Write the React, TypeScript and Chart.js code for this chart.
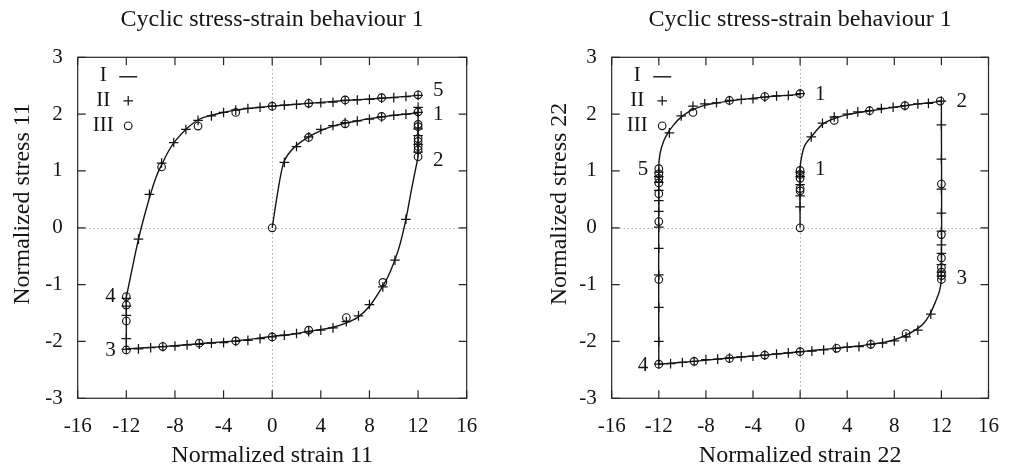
import React, { useEffect, useRef } from 'react';
import { Chart, registerables } from 'chart.js';

Chart.register(...registerables);

type Pt = [number, number];

const FONT = "'Liberation Serif', 'Times New Roman', serif";
const INK = '#141414';

// ---------- Panel 1: stress 11 vs strain 11 ----------
const s11LineLoad: Pt[] = [
  [0, 0], [0.42, 0.58], [0.9, 1.12], [1.3, 1.29], [2, 1.45], [3, 1.6], [4, 1.71], [5, 1.79],
  [6, 1.84], [7, 1.88], [8, 1.92], [9, 1.95], [10, 1.98], [11, 2.0], [12, 2.02],
];
const s11LineRelax1: Pt[] = [[12, 2.02], [12, 1.25]];
const s11LineUnload: Pt[] = [
  [12, 1.25], [11.5, 0.72], [11, 0.15], [10.5, -0.3], [10, -0.62], [9.5, -0.87], [9, -1.06],
  [8, -1.38], [7, -1.58], [6, -1.68], [5, -1.75], [4, -1.79], [3, -1.82], [2, -1.86], [1, -1.89],
  [0, -1.91], [-1, -1.94], [-3, -1.99], [-6, -2.04], [-9, -2.09], [-12, -2.13],
];
const s11LineRelax2: Pt[] = [[-12, -2.13], [-12, -1.22]];
const s11LineReload: Pt[] = [
  [-12, -1.22], [-11.5, -0.7], [-11, -0.2], [-10.5, 0.22], [-10, 0.6], [-9.5, 0.92], [-9, 1.15],
  [-8.5, 1.36], [-8, 1.52], [-7, 1.75], [-6, 1.91], [-5, 1.98], [-4, 2.03], [-3, 2.07], [-2, 2.1],
  [-1, 2.12], [0, 2.14], [3, 2.19], [6, 2.24], [9, 2.28], [12, 2.33],
];
const s11SeriesII: Pt[] = [
  [1, 1.15], [2, 1.43], [3, 1.6], [4, 1.73], [5, 1.8], [6, 1.85], [7, 1.88], [8, 1.91], [9, 1.95],
  [10, 1.98], [11, 2.0], [12, 2.03],
  [12, 2.12], [12, 1.74], [12, 1.62], [12, 1.47], [12, 1.33],
  [11, 0.15], [10.1, -0.57], [9.1, -1.04], [8, -1.35], [7.1, -1.55], [6.1, -1.65], [5, -1.76],
  [4, -1.8], [3, -1.83], [2, -1.86], [1, -1.89], [0, -1.92], [-1, -1.95], [-2, -1.98], [-3, -2.0],
  [-4, -2.02], [-5, -2.03], [-6, -2.05], [-7, -2.06], [-8, -2.08], [-9, -2.09], [-10, -2.11],
  [-11, -2.13], [-12, -2.14],
  [-12, -1.95], [-12, -1.54], [-12, -1.38], [-12, -1.24],
  [-11, -0.2], [-10.1, 0.59], [-9.1, 1.14], [-8.1, 1.5], [-7.1, 1.73], [-6.1, 1.89], [-5, 1.97],
  [-4, 2.03], [-3, 2.07], [-2, 2.1], [-1, 2.12], [0, 2.14], [1, 2.16], [2, 2.17], [3, 2.19],
  [4, 2.2], [5, 2.21], [6, 2.24], [7, 2.25], [8, 2.26], [9, 2.28], [10, 2.29], [11, 2.31], [12, 2.33],
];
const s11SeriesIII: Pt[] = [
  [0, 0], [3, 1.59], [6, 1.83], [9, 1.96], [12, 2.04],
  [12, 1.82], [12, 1.78], [12, 1.57], [12, 1.52], [12, 1.43], [12, 1.37], [12, 1.25],
  [9.1, -0.96], [6.1, -1.58], [3, -1.8], [0, -1.92], [-3, -1.99], [-6, -2.03], [-9, -2.09], [-12, -2.15],
  [-12, -1.64], [-12, -1.36], [-12, -1.21],
  [-9.1, 1.07], [-6.1, 1.79], [-3, 2.03], [0, 2.14], [3, 2.19], [6, 2.25], [9, 2.29], [12, 2.34],
];
const s11NoteText = ['5', '1', '2', '4', '3'];
const s11NoteX = [12, 12, 12, -12, -12];
const s11NoteY = [2.41, 1.99, 1.19, -1.2, -2.16];

// ---------- Panel 2: stress 22 vs strain 22 ----------
const s22LineLoad: Pt[] = [
  [0, 0], [0, 1.05], [0.13, 1.25], [0.4, 1.45], [0.95, 1.6], [1.9, 1.82], [3, 1.93], [4, 1.99],
  [5, 2.03], [6, 2.06], [7, 2.09], [8, 2.12], [9, 2.15], [10, 2.18], [11, 2.2], [12, 2.23],
];
const s22LineUnload: Pt[] = [
  [12, 2.23], [12, -0.88], [11.85, -1.1], [11.5, -1.3], [11, -1.53], [10.5, -1.68], [10, -1.77],
  [9, -1.89], [8, -1.97], [7, -2.02], [6, -2.05], [5, -2.08], [4, -2.1], [3, -2.12], [2, -2.14],
  [1, -2.16], [0, -2.18], [-3, -2.24], [-6, -2.29], [-9, -2.35], [-12, -2.4],
];
const s22LineReload: Pt[] = [
  [-12, -2.4], [-12, 1.05], [-11.9, 1.3], [-11.6, 1.52], [-11.2, 1.68], [-10.7, 1.82], [-10.2, 1.93],
  [-9.3, 2.06], [-8.2, 2.15], [-7, 2.2], [-6, 2.23], [-5, 2.26], [-4, 2.28], [-3, 2.3], [-2, 2.32],
  [-1, 2.33], [0, 2.35],
];
const s22SeriesII: Pt[] = [
  [0, 0.37], [0, 0.56], [0, 0.76], [0, 0.9], [0, 0.98],
  [0.95, 1.6], [1.9, 1.84], [2.9, 1.95], [4, 2.0], [4.9, 2.04], [5.9, 2.06], [6.9, 2.1], [7.9, 2.12],
  [8.9, 2.15], [10, 2.18], [10.9, 2.19], [12, 2.23],
  [12, 1.81], [12, 1.21], [12, 0.68], [12, 0.26], [12, -0.06], [12, -0.3], [12, -0.45], [12, -0.65],
  [12, -0.78], [12, -0.85],
  [11.1, -1.52], [10, -1.8], [9, -1.92], [8, -1.99], [7, -2.03], [6, -2.05], [5, -2.09], [4, -2.1],
  [3, -2.12], [2, -2.15], [1, -2.17], [0, -2.18], [-1, -2.2], [-2, -2.22], [-3, -2.24], [-4, -2.26],
  [-5, -2.27], [-6, -2.29], [-7, -2.31], [-8, -2.32], [-9, -2.35], [-10, -2.37], [-11, -2.39], [-12, -2.4],
  [-12, -2.0], [-12, -1.4], [-12, -0.83], [-12, -0.36], [-12, 0.01], [-12, 0.29], [-12, 0.48],
  [-12, 0.66], [-12, 0.8], [-12, 0.9], [-12, 0.98],
  [-11.1, 1.67], [-10.1, 1.97], [-9.1, 2.14], [-8.1, 2.18], [-7.1, 2.2], [-6, 2.24], [-5, 2.26],
  [-4, 2.27], [-3, 2.3], [-2, 2.32], [-1, 2.33], [0, 2.36],
];
const s22SeriesIII: Pt[] = [
  [0, 0], [0, 0.65], [0, 0.69], [0, 0.87], [0, 0.94], [0, 1.01],
  [2.9, 1.89], [5.9, 2.06], [8.9, 2.15], [11.9, 2.23],
  [12, 0.77], [12, -0.12], [12, -0.53], [12, -0.7], [12, -0.78], [12, -0.84], [12, -0.91],
  [9, -1.86], [6, -2.05], [3.1, -2.12], [0, -2.18], [-3, -2.24], [-6, -2.3], [-9, -2.35], [-12, -2.4],
  [-12, -0.91], [-12, 0.11], [-12, 0.6], [-12, 0.79], [-12, 0.87], [-12, 0.95], [-12, 1.04],
  [-9.1, 2.03], [-6, 2.24], [-3, 2.31], [0, 2.36],
];
const s22NoteText = ['1', '2', '1', '3', '4', '5'];
const s22NoteX = [0, 12, 0, 12, -12, -12];
const s22NoteY = [2.35, 2.22, 1.02, -0.89, -2.43, 1.02];

const seriesNames = ['I', 'II', 'III'];
const xTickMin = -16;
const xTickMax = 16;
const xTickStep = 4;
const yTickMin = -3;
const yTickMax = 3;
const yTickStep = 1;

interface Panel {
  title: string;
  xTitle: string;
  yTitle: string;
  lines: Pt[][];
  seriesII: Pt[];
  seriesIII: Pt[];
  noteText: string[];
  noteX: number[];
  noteY: number[];
  yAxisWidth: number;
  rightPad: number;
  yTitleDx: number;
}

const panels: Panel[] = [
  {
    title: 'Cyclic stress-strain behaviour 1',
    xTitle: 'Normalized strain 11',
    yTitle: 'Normalized stress 11',
    lines: [s11LineLoad, s11LineRelax1, s11LineUnload, s11LineRelax2, s11LineReload],
    seriesII: s11SeriesII,
    seriesIII: s11SeriesIII,
    noteText: s11NoteText,
    noteX: s11NoteX,
    noteY: s11NoteY,
    yAxisWidth: 77.7,
    rightPad: 40.3,
    yTitleDx: 54.5,
  },
  {
    title: 'Cyclic stress-strain behaviour 1',
    xTitle: 'Normalized strain 22',
    yTitle: 'Normalized stress 22',
    lines: [s22LineLoad, s22LineUnload, s22LineReload],
    seriesII: s22SeriesII,
    seriesIII: s22SeriesIII,
    noteText: s22NoteText,
    noteX: s22NoteX,
    noteY: s22NoteY,
    yAxisWidth: 104.7,
    rightPad: 13.3,
    yTitleDx: 51.7,
  },
];

const toXY = (a: Pt[]) => a.map(([x, y]) => ({ x, y }));

function drawPlus(ctx: CanvasRenderingContext2D, x: number, y: number, r: number) {
  ctx.beginPath();
  ctx.moveTo(x - r, y);
  ctx.lineTo(x + r, y);
  ctx.moveTo(x, y - r);
  ctx.lineTo(x, y + r);
  ctx.stroke();
}

function makeDecor(p: Panel) {
  return {
    id: 'decor',
    beforeDatasetsDraw(chart: any) {
      const { ctx, chartArea: a, scales } = chart;
      const x0 = Math.round(scales.x.getPixelForValue(0)) + 0.5;
      const y0 = Math.round(scales.y.getPixelForValue(0)) + 0.5;
      ctx.save();
      ctx.strokeStyle = '#8a8a8a';
      ctx.lineWidth = 1;
      ctx.setLineDash([1, 3]);
      ctx.beginPath();
      ctx.moveTo(x0, a.top);
      ctx.lineTo(x0, a.bottom);
      ctx.moveTo(a.left, y0);
      ctx.lineTo(a.right, y0);
      ctx.stroke();
      ctx.restore();
    },
    afterDraw(chart: any) {
      const { ctx, chartArea: a, scales } = chart;
      const sx = scales.x;
      const sy = scales.y;
      ctx.save();
      // frame
      ctx.strokeStyle = '#262626';
      ctx.lineWidth = 1.2;
      ctx.strokeRect(a.left, a.top, a.right - a.left, a.bottom - a.top);
      // inward ticks on all four sides
      const tl = 8;
      ctx.beginPath();
      sx.ticks.forEach((t: any) => {
        const px = sx.getPixelForValue(t.value);
        ctx.moveTo(px, a.bottom);
        ctx.lineTo(px, a.bottom - tl);
        ctx.moveTo(px, a.top);
        ctx.lineTo(px, a.top + tl);
      });
      sy.ticks.forEach((t: any) => {
        const py = sy.getPixelForValue(t.value);
        ctx.moveTo(a.left, py);
        ctx.lineTo(a.left + tl, py);
        ctx.moveTo(a.right, py);
        ctx.lineTo(a.right - tl, py);
      });
      ctx.stroke();

      // legend
      ctx.fillStyle = INK;
      ctx.strokeStyle = INK;
      ctx.font = `21px ${FONT}`;
      ctx.textBaseline = 'middle';
      ctx.textAlign = 'center';
      seriesNames.forEach((name, i) => {
        const cy = a.top + 18.5 + i * 25;
        const tx = a.left + 25.5;
        const sxp = a.left + 50.5;
        ctx.fillText(name, tx, cy);
        if (i === 0) {
          ctx.lineWidth = 1.4;
          ctx.beginPath();
          ctx.moveTo(sxp - 9, cy + 1);
          ctx.lineTo(sxp + 9, cy + 1);
          ctx.stroke();
        } else if (i === 1) {
          ctx.lineWidth = 1.25;
          drawPlus(ctx, sxp, cy, 4.8);
        } else {
          ctx.lineWidth = 1.15;
          ctx.beginPath();
          ctx.arc(sxp, cy, 3.8, 0, Math.PI * 2);
          ctx.stroke();
        }
      });

      // numbered state annotations
      p.noteText.forEach((txt, i) => {
        const px = sx.getPixelForValue(p.noteX[i]);
        const py = sy.getPixelForValue(p.noteY[i]);
        if (p.noteX[i] >= 0) {
          ctx.textAlign = 'left';
          ctx.fillText(txt, px + 15, py);
        } else {
          ctx.textAlign = 'right';
          ctx.fillText(txt, px - 10.5, py);
        }
      });

      // y axis title
      ctx.font = `24px ${FONT}`;
      ctx.textAlign = 'center';
      ctx.translate(a.left - p.yTitleDx, a.top + 146.7);
      ctx.rotate(-Math.PI / 2);
      ctx.fillText(p.yTitle, 0, 0);
      ctx.restore();
    },
  };
}

function buildConfig(p: Panel): any {
  const lineSets = p.lines.map((seg) => ({
    label: seriesNames[0],
    data: toXY(seg),
    showLine: true,
    pointRadius: 0,
    pointHoverRadius: 0,
    borderColor: INK,
    borderWidth: 1.4,
    tension: 0.35,
    fill: false,
  }));
  return {
    type: 'scatter',
    data: {
      datasets: [
        ...lineSets,
        {
          label: seriesNames[1],
          data: toXY(p.seriesII),
          showLine: false,
          pointStyle: 'cross',
          pointRadius: 4.8,
          pointBorderWidth: 1.25,
          borderColor: INK,
          backgroundColor: INK,
        },
        {
          label: seriesNames[2],
          data: toXY(p.seriesIII),
          showLine: false,
          pointStyle: 'circle',
          pointRadius: 3.8,
          pointBorderWidth: 1.15,
          borderColor: INK,
          backgroundColor: 'rgba(0,0,0,0)',
        },
      ],
    },
    options: {
      responsive: false,
      animation: false,
      devicePixelRatio: 1,
      layout: { padding: { left: 0, right: p.rightPad, top: 0, bottom: 0 } },
      plugins: {
        legend: { display: false },
        tooltip: { enabled: false },
        title: {
          display: true,
          text: p.title,
          fullSize: false,
          color: INK,
          font: { family: FONT, size: 24, weight: 'normal' },
          padding: { top: 5.6, bottom: 22.9 },
        },
      },
      scales: {
        x: {
          type: 'linear',
          min: xTickMin,
          max: xTickMax,
          grid: { display: false, drawTicks: false },
          border: { display: false },
          ticks: {
            stepSize: xTickStep,
            autoSkip: false,
            maxRotation: 0,
            padding: 16,
            color: INK,
            font: { family: FONT, size: 21 },
          },
          title: {
            display: true,
            text: p.xTitle,
            color: INK,
            font: { family: FONT, size: 24 },
            padding: { top: 0, bottom: 0 },
          },
          afterFit: (s: any) => {
            s.height = 71.7;
          },
        },
        y: {
          type: 'linear',
          min: yTickMin,
          max: yTickMax,
          grid: { display: false, drawTicks: false },
          border: { display: false },
          ticks: {
            stepSize: yTickStep,
            autoSkip: false,
            padding: 15,
            color: INK,
            font: { family: FONT, size: 21 },
          },
          afterFit: (s: any) => {
            s.width = p.yAxisWidth;
          },
        },
      },
    },
    plugins: [makeDecor(p)],
  };
}

function PanelChart({ spec, left, width }: { spec: Panel; left: number; width: number }) {
  const ref = useRef<HTMLCanvasElement>(null);
  useEffect(() => {
    const chart = new Chart(ref.current as HTMLCanvasElement, buildConfig(spec));
    return () => chart.destroy();
  }, [spec]);
  return (
    <canvas
      ref={ref}
      width={width}
      height={470}
      style={{ position: 'absolute', left, top: 0, width, height: 470, display: 'block' }}
    />
  );
}

export default function App() {
  return (
    <div
      style={{
        position: 'fixed',
        left: 0,
        top: 0,
        width: 1015,
        height: 470,
        background: '#ffffff',
        overflow: 'hidden',
      }}
    >
      <PanelChart spec={panels[0]} left={0} width={507} />
      <PanelChart spec={panels[1]} left={507} width={508} />
    </div>
  );
}
